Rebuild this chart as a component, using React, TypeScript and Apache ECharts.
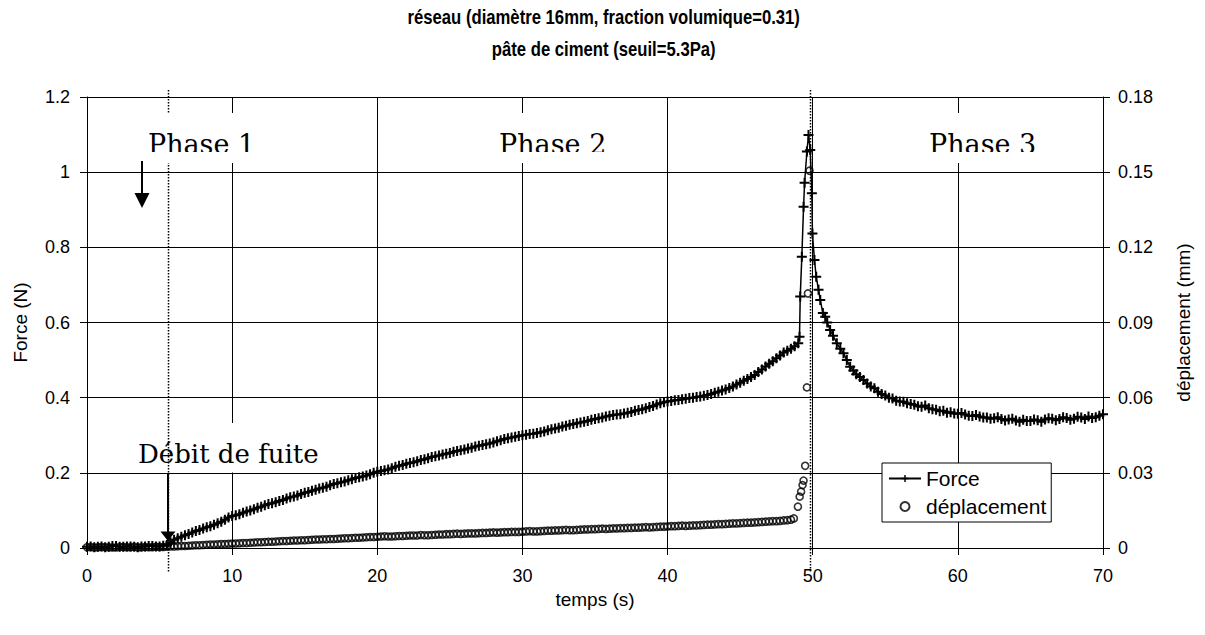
import React, { useEffect, useRef } from "react";
import * as echarts from "echarts";

// ---- Data ----
// Regularly sampled parts: value i is at time start + i * sampleStep (s)
const sampleStep = 0.25;

// Force (N), t = 0 .. 49 s
const forceRiseStart = 0;
const forceRise = [
  0.003, 0.004, 0.002, 0.003, 0.004, 0.002, 0.003, 0.005, 0.005, 0.003, 0.003, 0.004, 0.004, 0.003, 0.002, 0.004, 0.004, 0.005, 0.005, 0.004, 0.004, 0.006, 0.008, 0.015,
  0.022, 0.026, 0.03, 0.034, 0.037, 0.041, 0.045, 0.048, 0.052, 0.055, 0.058, 0.062, 0.066, 0.07, 0.075, 0.081,
  0.085, 0.087, 0.09, 0.094, 0.097, 0.1, 0.103, 0.107, 0.11, 0.114, 0.117, 0.119, 0.122, 0.125, 0.128, 0.132,
  0.135, 0.137, 0.14, 0.144, 0.147, 0.149, 0.152, 0.155, 0.158, 0.16, 0.163, 0.167, 0.17, 0.172, 0.175, 0.177,
  0.18, 0.183, 0.186, 0.188, 0.19, 0.193, 0.196, 0.2, 0.203, 0.205, 0.207, 0.209, 0.212, 0.216, 0.219, 0.221,
  0.224, 0.226, 0.228, 0.231, 0.234, 0.236, 0.239, 0.242, 0.244, 0.246, 0.249, 0.251, 0.253, 0.256, 0.258, 0.26,
  0.262, 0.265, 0.267, 0.27, 0.272, 0.274, 0.276, 0.278, 0.281, 0.284, 0.287, 0.29, 0.292, 0.294, 0.296, 0.298,
  0.3, 0.301, 0.303, 0.304, 0.306, 0.308, 0.31, 0.313, 0.316, 0.318, 0.32, 0.323, 0.325, 0.328, 0.33, 0.332,
  0.334, 0.336, 0.338, 0.341, 0.343, 0.345, 0.347, 0.35, 0.352, 0.354, 0.355, 0.356, 0.358, 0.36, 0.362, 0.365,
  0.367, 0.369, 0.372, 0.375, 0.378, 0.382, 0.385, 0.388, 0.39, 0.391, 0.393, 0.394, 0.396, 0.397, 0.399, 0.4,
  0.402, 0.403, 0.405, 0.407, 0.41, 0.413, 0.416, 0.419, 0.422, 0.426, 0.43, 0.435, 0.44, 0.445, 0.45, 0.455,
  0.46, 0.468, 0.475, 0.483, 0.49, 0.497, 0.505, 0.512, 0.52, 0.525, 0.53, 0.537,
  0.545,
];
// Force (N) around the peak, irregular times
const forcePeakTime = [
  49.09, 49.14, 49.25, 49.37, 49.44, 49.6, 49.71, 49.83, 49.94, 49.98, 50.12, 50.24, 50.4, 50.52, 50.7, 50.86,
  51.0, 51.2, 51.4, 51.66, 51.9, 52.12, 52.35, 52.58, 52.8,
];
const forcePeakN = [
  0.562, 0.669, 0.775, 0.908, 0.972, 1.055, 1.099, 1.059, 0.944, 0.837, 0.766, 0.722, 0.687, 0.66, 0.625, 0.615,
  0.6, 0.58, 0.565, 0.545, 0.53, 0.518, 0.5, 0.482, 0.472,
];
// Force (N), t = 53 .. 70 s
const forceTailStart = 53;
const forceTail = [
  0.462, 0.455, 0.447, 0.438, 0.43, 0.425, 0.416, 0.41, 0.406, 0.4, 0.398, 0.392, 0.39, 0.389, 0.385, 0.383,
  0.381, 0.377, 0.376, 0.379, 0.372, 0.369, 0.368, 0.364, 0.365, 0.36, 0.361, 0.358, 0.357, 0.359, 0.355, 0.352,
  0.351, 0.354, 0.35, 0.347, 0.347, 0.344, 0.345, 0.348, 0.343, 0.339, 0.342, 0.344, 0.339, 0.336, 0.341, 0.338,
  0.338, 0.342, 0.34, 0.336, 0.342, 0.345, 0.344, 0.34, 0.343, 0.348, 0.346, 0.341, 0.344, 0.349, 0.347, 0.343,
  0.35, 0.346, 0.348, 0.352, 0.356,
];

// Displacement (mm), t = 0 .. 48.5 s
const dispRiseStart = 0;
const dispRise = [
  0.0003, 0.0004, 0.0002, 0.0003, 0.0004, 0.0003, 0.0003, 0.0002, 0.0002, 0.0004, 0.0004, 0.0003, 0.0003, 0.0005, 0.0002, 0.0003, 0.0004, 0.0003, 0.0003, 0.0005, 0.0004, 0.0004, 0.0005, 0.0006,
  0.0006, 0.0007, 0.0008, 0.0008, 0.0009, 0.001, 0.0011, 0.0011, 0.0012, 0.0013, 0.0014, 0.0014, 0.0015, 0.0016, 0.0016, 0.0017,
  0.0018, 0.0018, 0.0019, 0.002, 0.002, 0.0021, 0.0022, 0.0023, 0.0023, 0.0024, 0.0025, 0.0025, 0.0026, 0.0027, 0.0028, 0.0028,
  0.0029, 0.003, 0.003, 0.0031, 0.0031, 0.0032, 0.0033, 0.0034, 0.0034, 0.0035, 0.0035, 0.0036, 0.0036, 0.0037, 0.0038, 0.0039,
  0.0039, 0.004, 0.0041, 0.0041, 0.0042, 0.0043, 0.0044, 0.0044, 0.0045, 0.0046, 0.0047, 0.0046, 0.0046, 0.0047, 0.0048, 0.0048,
  0.0049, 0.005, 0.005, 0.005, 0.0052, 0.0051, 0.0051, 0.0052, 0.0053, 0.0054, 0.0054, 0.0055, 0.0055, 0.0056, 0.0057, 0.0056,
  0.0057, 0.0058, 0.0058, 0.0058, 0.0059, 0.006, 0.006, 0.0061, 0.0062, 0.0061, 0.0062, 0.0063, 0.0063, 0.0064, 0.0064, 0.0064,
  0.0065, 0.0066, 0.0067, 0.0066, 0.0066, 0.0067, 0.0068, 0.0069, 0.0069, 0.007, 0.007, 0.0071, 0.0072, 0.0071, 0.0071, 0.0072,
  0.0073, 0.0074, 0.0074, 0.0075, 0.0075, 0.0076, 0.0077, 0.0076, 0.0077, 0.0078, 0.0078, 0.0079, 0.0079, 0.008, 0.008, 0.0081,
  0.0081, 0.0082, 0.0083, 0.0082, 0.0083, 0.0084, 0.0085, 0.0085, 0.0086, 0.0087, 0.0087, 0.0088, 0.0089, 0.0088, 0.0089, 0.009,
  0.009, 0.0091, 0.0092, 0.0093, 0.0093, 0.0094, 0.0095, 0.0095, 0.0096, 0.0097, 0.0098, 0.0098, 0.0099, 0.01, 0.0101, 0.0101,
  0.0102, 0.0103, 0.0104, 0.0105, 0.0106, 0.0107, 0.0107, 0.0108, 0.011, 0.0111, 0.0113,
];
// Displacement (mm) around the peak
const dispPeakTime = [48.7, 48.98, 49.1, 49.2, 49.3, 49.37, 49.48, 49.6, 49.67, 49.78];
const dispPeakMM = [0.0118, 0.0165, 0.0205, 0.0225, 0.0251, 0.0269, 0.0328, 0.0641, 0.1016, 0.1506];

const titleLines = ["réseau (diamètre 16mm, fraction volumique=0.31)", "pâte de ciment (seuil=5.3Pa)"];
const xName = "temps (s)";
const yLeftName = "Force (N)";
const yRightName = "déplacement (mm)";
const phaseLabels = ["Phase 1", "Phase 2", "Phase 3"];
const phaseTextStart = [4.2, 28.39, 58.01];
const phaseBox = [[3.65, 12.33], [27.77, 37.0], [57.39, 66.76]];
const leakLabel = "Débit de fuite";
const leakStart = 5.58; // s
const peakTime = 49.8; // s

const SANS = "'Liberation Sans', Arial, sans-serif";
const SERIF = "'DejaVu Serif', serif";
const PLUS = "path://M4,0h2v4h4v2h-4v4h-2v-4h-4v-2h4z";

export default function App() {
  const ref = useRef<HTMLDivElement>(null);
  useEffect(() => {
    document.body.style.margin = "0";
    const chart = echarts.init(ref.current!, null, { renderer: "svg" });
    const forceData: number[][] = [
      ...forceRise.map((v, i) => [forceRiseStart + i * sampleStep, v]),
      ...forcePeakTime.map((t, i) => [t, forcePeakN[i]]),
      ...forceTail.map((v, i) => [forceTailStart + i * sampleStep, v]),
    ];
    const dispData: number[][] = [
      ...dispRise.map((v, i) => [dispRiseStart + i * sampleStep, v]),
      ...dispPeakTime.map((t, i) => [t, dispPeakMM[i]]),
    ];
    chart.setOption({
      animation: false,
      backgroundColor: "#fff",
      grid: { left: 87, right: 102, top: 97, bottom: 87, outerBoundsMode: "none" },
      legend: {
        data: ["Force", "déplacement"],
        orient: "vertical",
        left: 882,
        top: 463,
        backgroundColor: "#fff",
        borderColor: "#000",
        borderWidth: 1,
        borderRadius: 0,
        padding: [5, 5, 5, 6],
        itemGap: 7,
        itemWidth: 32,
        itemHeight: 9,
        textStyle: { fontFamily: SANS, fontSize: 21, color: "#000" },
        z: 10,
      },
      xAxis: {
        type: "value",
        min: 0,
        max: 70,
        interval: 10,
        name: xName,
        nameLocation: "middle",
        nameGap: 42,
        nameTextStyle: { fontFamily: SANS, fontSize: 19, color: "#000" },
        axisLine: { lineStyle: { color: "#000", width: 1 } },
        axisTick: { length: 7, lineStyle: { color: "#000" } },
        axisLabel: { fontFamily: SANS, fontSize: 18, color: "#000", margin: 19 },
        splitLine: { show: true, lineStyle: { color: "#000", width: 1 } },
      },
      yAxis: [
        {
          type: "value",
          min: 0,
          max: 1.2,
          interval: 0.2,
          name: yLeftName,
          nameLocation: "middle",
          nameRotate: 90,
          nameGap: 57,
          nameTextStyle: { fontFamily: SANS, fontSize: 19, color: "#000" },
          axisLine: { show: true, lineStyle: { color: "#000", width: 1 } },
          axisTick: { show: true, length: 7, lineStyle: { color: "#000" } },
          axisLabel: {
            fontFamily: SANS,
            fontSize: 18,
            color: "#000",
            margin: 17,
            formatter: (v: number) => String(+v.toFixed(1)),
          },
          splitLine: { show: true, lineStyle: { color: "#000", width: 1 } },
        },
        {
          type: "value",
          min: 0,
          max: 0.18,
          interval: 0.03,
          position: "right",
          name: yRightName,
          nameLocation: "middle",
          nameRotate: 90,
          nameGap: 71,
          nameTextStyle: { fontFamily: SANS, fontSize: 19, color: "#000" },
          axisLine: { show: true, lineStyle: { color: "#000", width: 1 } },
          axisTick: { show: true, length: 7, lineStyle: { color: "#000" } },
          axisLabel: {
            fontFamily: SANS,
            fontSize: 18,
            color: "#000",
            margin: 15,
            formatter: (v: number) => String(+v.toFixed(2)),
          },
          splitLine: { show: false },
        },
      ],
      series: [
        {
          name: "Force",
          type: "line",
          data: forceData,
          yAxisIndex: 0,
          symbol: PLUS,
          symbolSize: 10,
          showAllSymbol: true,
          lineStyle: { color: "#000", width: 1.5 },
          itemStyle: { color: "#000" },
          z: 3,
        },
        {
          name: "déplacement",
          type: "scatter",
          data: dispData,
          yAxisIndex: 1,
          symbol: "circle",
          symbolSize: 7,
          itemStyle: { color: "rgba(0,0,0,0)", borderColor: "#000", borderWidth: 1.6 },
          z: 3,
        },
      ],
    });

    const p = (t: number, f: number) =>
      chart.convertToPixel({ xAxisIndex: 0, yAxisIndex: 0 }, [t, f]) as number[];

    const graphics: any[] = [];
    // title (two lines)
    const titleX = p(35.6, 0)[0];
    [17, 49].forEach((y, i) => {
      graphics.push({
        type: "text",
        z: 10,
        x: titleX,
        y,
        scaleX: 0.834,
        style: {
          text: titleLines[i],
          fontFamily: SANS,
          fontSize: 20,
          fontWeight: "bold",
          fill: "#000",
          textAlign: "center",
          align: "center",
          textVerticalAlign: "middle",
          verticalAlign: "middle",
        },
      });
    });
    // dotted markers
    [leakStart, peakTime].forEach((t) => {
      const a = p(t, 1.2186);
      const b = p(t, -0.0638);
      graphics.push({
        type: "line",
        z: 4,
        shape: { x1: Math.round(a[0]) + 0.5, y1: a[1], x2: Math.round(b[0]) + 0.5, y2: b[1] },
        style: { stroke: "#000", lineWidth: 1.5, lineDash: [1.5, 1.5] },
      });
    });
    // phase labels
    phaseLabels.forEach((lab, i) => {
      const b0 = p(phaseBox[i][0], 1.1575);
      const b1 = p(phaseBox[i][1], 1.027);
      graphics.push({
        type: "rect",
        z: 5,
        shape: { x: b0[0], y: b0[1], width: b1[0] - b0[0], height: b1[1] - b0[1] },
        style: { fill: "#fff" },
      });
      const tp = p(phaseTextStart[i], 1.0744);
      graphics.push({
        type: "text",
        z: 6,
        x: tp[0],
        y: tp[1],
        style: {
          text: lab,
          fontFamily: SERIF,
          fontSize: 27,
          fill: "#000",
          textAlign: "left",
          align: "left",
          textVerticalAlign: "middle",
          verticalAlign: "middle",
        },
      });
      const c0 = p(phaseBox[i][0], 1.0537);
      const c1 = p(phaseBox[i][1], 1.0244);
      graphics.push({
        type: "rect",
        z: 7,
        shape: { x: c0[0], y: c0[1], width: c1[0] - c0[0], height: c1[1] - c0[1] },
        style: { fill: "#fff" },
      });
    });
    // arrow in phase 1
    {
      const a = p(3.79, 1.0297);
      const b = p(3.79, 0.9393);
      graphics.push({ type: "line", z: 8, shape: { x1: a[0], y1: a[1], x2: b[0], y2: b[1] }, style: { stroke: "#000", lineWidth: 2 } });
      const l = p(3.273, 0.9446);
      const r = p(4.307, 0.9446);
      const tip = p(3.79, 0.9047);
      graphics.push({ type: "polygon", z: 8, shape: { points: [l, r, tip] }, style: { fill: "#000" } });
    }
    // leak label
    {
      const b0 = p(2.07, 0.3326);
      const b1 = p(16.74, 0.2009);
      graphics.push({
        type: "rect",
        z: 1,
        shape: { x: b0[0], y: b0[1], width: b1[0] - b0[0], height: b1[1] - b0[1] },
        style: { fill: "#fff" },
      });
      const tp = p(3.51, 0.2501);
      graphics.push({
        type: "text",
        z: 6,
        x: tp[0],
        y: tp[1],
        style: {
          text: leakLabel,
          fontFamily: SERIF,
          fontSize: 26,
          fill: "#000",
          textAlign: "left",
          align: "left",
          textVerticalAlign: "middle",
          verticalAlign: "middle",
        },
      });
      const a = p(leakStart, 0.1969);
      const b = p(leakStart, 0.0399);
      graphics.push({ type: "line", z: 8, shape: { x1: a[0], y1: a[1], x2: b[0], y2: b[1] }, style: { stroke: "#000", lineWidth: 2 } });
      const l = p(5.063, 0.0439);
      const r = p(6.097, 0.0439);
      const tip = p(leakStart, 0.0186);
      graphics.push({ type: "polygon", z: 8, shape: { points: [l, r, tip] }, style: { fill: "#000" } });
    }
    chart.setOption({ graphic: graphics });

    return () => chart.dispose();
  }, []);
  return <div ref={ref} style={{ width: 1205, height: 635 }} />;
}
